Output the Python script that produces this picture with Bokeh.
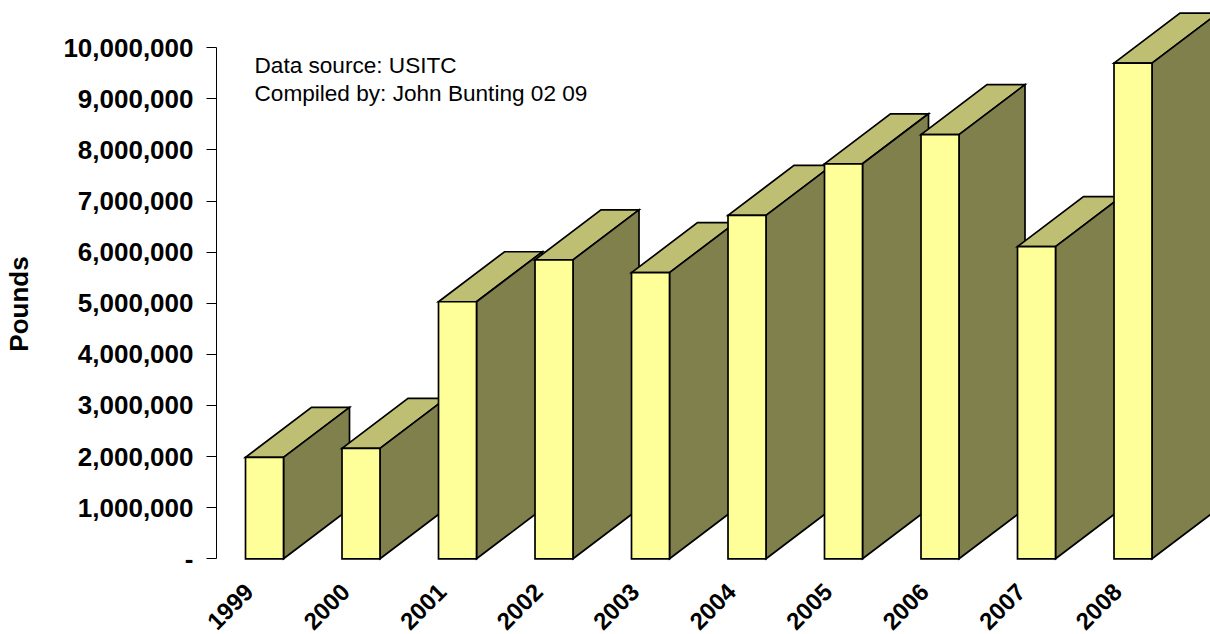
from math import pi

from bokeh.embed import file_html
from bokeh.models import Label
from bokeh.plotting import figure
from bokeh.resources import INLINE

years = ["1999", "2000", "2001", "2002", "2003", "2004", "2005", "2006", "2007", "2008"]
pounds = [1985000, 2160000, 5030000, 5850000, 5600000, 6720000, 7730000, 8300000, 6110000, 9700000]
y_ticks = [0, 1000000, 2000000, 3000000, 4000000, 5000000, 6000000, 7000000, 8000000, 9000000, 10000000]
notes = ["Data source: USITC", "Compiled by: John Bunting 02 09"]

FRONT, TOP, SIDE = "#FFFF99", "#BFBF73", "#80804D"
FONT = "Liberation Sans"

# One category step is 96.5 px; one million pounds is 51.1 px.
BAR_W = 38 / 96.5
DEPTH_X = 66 / 96.5
DEPTH_Y = 50 / 51.1 * 1e6
AXIS_X = -0.4974

# The plot area fills the page, so labels outside the blocks are not clipped.
p = figure(
    width=1210, height=634, output_backend="svg", toolbar_location=None,
    x_range=(-2.7358, 9.803), y_range=(-1481400, 10925600),
    min_border_left=0, min_border_right=0, min_border_top=0, min_border_bottom=0,
    outline_line_color=None, background_fill_color="white",
)
p.grid.visible = False
p.xaxis.visible = False

# Left to right, so each block's front hides the side of its neighbour.
for i, v in enumerate(pounds):
    x0, x1 = i - BAR_W / 2, i + BAR_W / 2
    style = dict(line_color="black", line_width=1.7, line_join="miter")
    p.patch([x0, x1, x1 + DEPTH_X, x0 + DEPTH_X], [v, v, v + DEPTH_Y, v + DEPTH_Y], fill_color=TOP, **style)
    p.patch([x1, x1 + DEPTH_X, x1 + DEPTH_X, x1], [0, DEPTH_Y, v + DEPTH_Y, v], fill_color=SIDE, **style)
    p.quad(left=x0, right=x1, bottom=0, top=v, fill_color=FRONT, **style)

ya = p.yaxis[0]
ya.fixed_location = AXIS_X
ya.ticker = y_ticks
ya.bounds = (0, 10000000)
ya.major_label_overrides = {t: ("-" if t == 0 else f"{t:,}") for t in y_ticks}
ya.major_label_text_font = FONT
ya.major_label_text_font_style = "bold"
ya.major_label_text_font_size = "26px"
ya.major_label_text_color = "black"
ya.major_label_standoff = 13
ya.major_tick_out = 10
ya.major_tick_in = 0
ya.minor_tick_line_color = None
ya.axis_line_color = "black"
ya.major_tick_line_color = "black"

# The rotated year labels sit to the lower left of their blocks.
for i, year in enumerate(years):
    p.add_layout(Label(
        x=i, y=0, x_offset=-34.5, y_offset=-47.5, angle=pi / 4,
        text=year, text_align="center", text_baseline="middle",
        text_font=FONT, text_font_style="bold", text_font_size="24px", text_color="black",
    ))

p.add_layout(Label(
    x=18.5, y=634 - 303.5, x_units="screen", y_units="screen", angle=pi / 2,
    text="Pounds", text_font=FONT, text_font_style="bold", text_font_size="26px",
    text_color="black", text_align="center", text_baseline="middle",
))

for k, note in enumerate(notes):
    p.add_layout(Label(
        x=254, y=634 - 64.5 - 28 * k, x_units="screen", y_units="screen",
        text=note, text_font=FONT, text_font_size="22.6px", text_color="black",
        text_baseline="middle",
    ))

open("out.html", "w").write(file_html(p, INLINE))
